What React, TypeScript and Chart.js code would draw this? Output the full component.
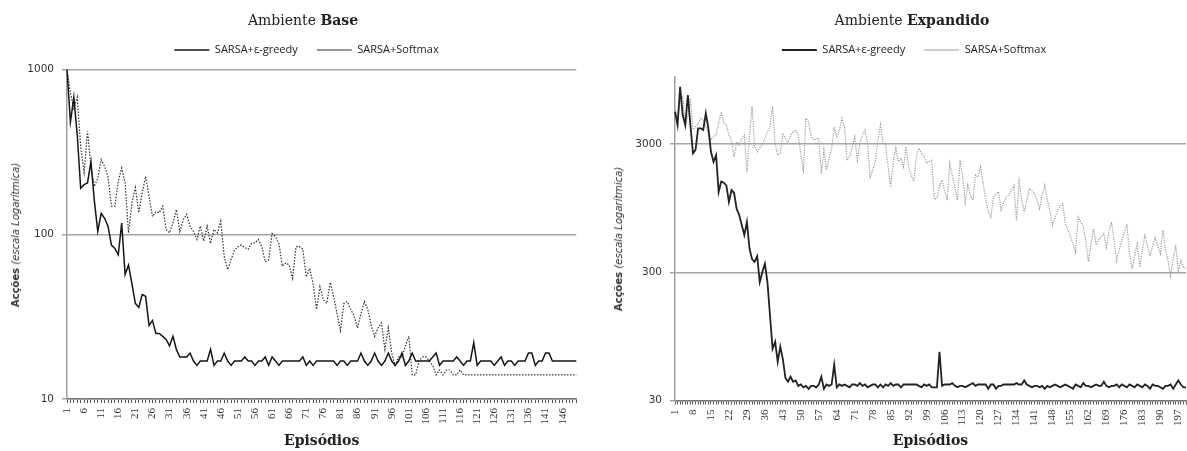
import React, { useEffect, useRef } from "react";
import { Chart, registerables } from "chart.js";

Chart.register(...registerables);

// ---------------- data ----------------
const seriesNames = ["SARSA+ε-greedy", "SARSA+Softmax"];

const baseEpisodes = Array.from({ length: 150 }, (_, i) => String(i + 1));
const expEpisodes = Array.from({ length: 200 }, (_, i) => String(i + 1));

const baseYTicks = [10, 100, 1000];
const expYTicks = [30, 300, 3000];

const baseGreedy = [
  1000, 480, 680, 400, 190, 200, 205, 275, 160, 104,
  134, 125, 112, 86, 82, 75, 117, 57, 65, 50,
  38, 36, 43, 42, 28, 30, 25, 25, 24, 23,
  21, 24, 20, 18, 18, 18, 19, 17, 16, 17,
  17, 17, 20, 16, 17, 17, 19, 17, 16, 17,
  17, 17, 18, 17, 17, 16, 17, 17, 18, 16,
  18, 17, 16, 17, 17, 17, 17, 17, 17, 18,
  16, 17, 16, 17, 17, 17, 17, 17, 17, 16,
  17, 17, 16, 17, 17, 17, 19, 17, 16, 17,
  19, 17, 16, 17, 19, 17, 16, 17, 19, 16,
  17, 19, 17, 17, 17, 17, 17, 18, 19, 16,
  17, 17, 17, 17, 18, 17, 16, 17, 17, 22,
  16, 17, 17, 17, 17, 16, 17, 18, 16, 17,
  17, 16, 17, 17, 17, 19, 19, 16, 17, 17,
  19, 19, 17, 17, 17, 17, 17, 17, 17, 17,
];

const baseSoftmax = [
  1000, 720, 580, 680, 340, 237, 422, 258, 195, 219,
  284, 258, 224, 148, 148, 210, 252, 205, 102, 155,
  192, 135, 178, 224, 170, 128, 137, 135, 148, 107,
  102, 117, 141, 104, 122, 132, 112, 104, 93, 112,
  91, 112, 88, 107, 102, 120, 73, 61, 70, 80,
  84, 86, 83, 81, 88, 89, 93, 84, 68, 70,
  101, 97, 88, 64, 67, 65, 54, 84, 84, 81,
  55, 62, 50, 35, 48, 40, 38, 51, 42, 33,
  26, 38, 39, 35, 32, 27, 33, 39, 35, 28,
  24, 27, 29, 20, 27, 19, 16, 18, 18, 21,
  24, 14, 14, 17, 18, 18, 17, 16, 14, 15,
  14, 15, 15, 14, 14, 15, 14, 14, 14, 14,
  14, 14, 14, 14, 14, 14, 14, 14, 14, 14,
  14, 14, 14, 14, 14, 14, 14, 14, 14, 14,
  14, 14, 14, 14, 14, 14, 14, 14, 14, 14,
];

const expGreedy = [
  5360, 4220, 8400, 5050, 4220, 7240, 4220, 2540, 2700, 3980,
  3980, 3860, 5210, 3980, 2610, 2180, 2460, 1270, 1530, 1500,
  1430, 1060, 1310, 1250, 940, 840, 700, 585, 740, 460,
  380, 362, 400, 251, 300, 350, 251, 138, 76, 86,
  60, 79, 63, 45, 42, 46, 42, 43, 39, 40,
  38, 39, 37, 39, 39, 38, 40, 46, 37, 40,
  39, 40, 57, 38, 40, 39, 40, 39, 38, 40,
  40, 39, 41, 39, 40, 38, 39, 40, 40, 38,
  40, 38, 40, 39, 41, 39, 40, 40, 38, 40,
  40, 40, 40, 40, 40, 39, 38, 40, 39, 40,
  38, 38, 38, 72, 39, 40, 40, 40, 41, 39,
  38, 39, 39, 38, 39, 40, 41, 39, 40, 40,
  40, 40, 37, 40, 40, 37, 39, 39, 40, 40,
  40, 40, 40, 41, 40, 40, 43, 40, 39, 38,
  39, 39, 38, 39, 37, 39, 38, 39, 40, 39,
  38, 39, 40, 39, 38, 37, 40, 39, 38, 41,
  39, 39, 38, 39, 40, 39, 39, 42, 39, 38,
  39, 39, 40, 38, 40, 39, 38, 40, 39, 38,
  40, 39, 38, 40, 39, 37, 40, 39, 39, 38,
  37, 39, 39, 40, 37, 40, 43, 40, 38, 38,
];

const expSoftmax = [
  5500, 4800, 6500, 7000, 4200, 5000, 6800, 3900, 4100, 4300,
  4770, 4620, 4100, 3700, 3220, 3420, 3530, 4360, 5360, 4400,
  4220, 3530, 3200, 2390, 3120, 2950, 3300, 3530, 1820, 3400,
  5890, 2860, 2610, 2800, 2950, 3330, 3750, 4100, 5890, 3000,
  2460, 2540, 3640, 3330, 3040, 3500, 3750, 3860, 3530, 2500,
  1880, 4770, 4480, 3420, 3220, 3300, 3330, 1770, 2690, 1880,
  2300, 2780, 3980, 3420, 3800, 4770, 4100, 2240, 2390, 2800,
  3420, 2240, 3040, 3500, 3860, 3040, 1660, 1880, 2200, 3200,
  4220, 3040, 2950, 2000, 1390, 2200, 2780, 2180, 2320, 1990,
  2860, 1990, 1700, 1530, 2400, 2780, 2540, 2390, 2120, 2200,
  2240, 1110, 1130, 1400, 1570, 1300, 1090, 2120, 1700, 1400,
  1090, 2240, 1660, 1060, 1430, 1200, 1090, 1720, 1660, 1990,
  1480, 1100, 900, 810, 1160, 1220, 1270, 920, 1050, 1160,
  1200, 1300, 1430, 760, 1530, 1100, 890, 1090, 1350, 1300,
  1240, 1100, 940, 1200, 1430, 1100, 910, 700, 800, 910,
  980, 1030, 720, 640, 570, 500, 430, 810, 740, 680,
  520, 362, 500, 660, 490, 540, 570, 600, 470, 620,
  740, 530, 370, 450, 530, 620, 710, 420, 320, 400,
  500, 330, 450, 580, 480, 400, 480, 560, 480, 420,
  640, 450, 370, 280, 380, 490, 310, 370, 330, 320,
];

// ---------------- chart building ----------------
type PanelSpec = {
  labels: string[];
  greedy: number[];
  softmax: number[];
  yMin: number;
  yMax: number;
  yTicks: number[];
  labelStep: number;
  padRight: number;
  padTop: number;
  yAxisWidth: number;
  xAxisHeight: number;
  legendHeight: number;
  legendCenter: number;
  greedyColor: string;
  greedyWidth: number;
  softColor: string;
  softWidth: number;
  softDash: number[];
};

function legendControlPlugin(h: number, center: number) {
  return {
    id: "legendControl",
    beforeInit(chart: any) {
      const lg = chart.legend;
      if (!lg || lg._hPatched) return;
      const orig = lg.fit;
      lg.fit = function () {
        orig.call(this);
        this.height = h;
      };
      lg._hPatched = true;
    },
    afterLayout(chart: any) {
      const lg = chart.legend;
      if (!lg) return;
      const w = lg.right - lg.left;
      lg.left = center - w / 2;
      lg.right = center + w / 2;
    },
  };
}

function buildConfig(s: PanelSpec): any {
  return {
    type: "line",
    data: {
      labels: s.labels,
      datasets: [
        {
          label: seriesNames[0],
          data: s.greedy,
          borderColor: s.greedyColor,
          backgroundColor: s.greedyColor,
          borderWidth: s.greedyWidth,
          pointRadius: 0,
          tension: 0,
          fill: false,
        },
        {
          label: seriesNames[1],
          data: s.softmax,
          borderColor: s.softColor,
          backgroundColor: s.softColor,
          borderWidth: s.softWidth,
          borderDash: s.softDash,
          pointRadius: 0,
          tension: 0,
          fill: false,
        },
      ],
    },
    options: {
      responsive: false,
      animation: false,
      events: [],
      layout: {
        padding: { left: 0, right: s.padRight, top: s.padTop, bottom: 0 },
      },
      plugins: {
        legend: {
          display: true,
          position: "top",
          align: "center",
          labels: {
            usePointStyle: true,
            pointStyle: "line",
            pointStyleWidth: 35,
            padding: 19,
            color: "#222",
            font: { family: "Open Sans", size: 11 },
          },
        },
        title: { display: false },
        tooltip: { enabled: false },
      },
      scales: {
        x: {
          type: "category",
          offset: false,
          border: { display: true, color: "#7a7a7a", width: 1.5 },
          grid: {
            display: true,
            drawOnChartArea: false,
            drawTicks: true,
            tickLength: 4,
            color: "#555",
            lineWidth: 1,
          },
          ticks: {
            autoSkip: false,
            minRotation: 90,
            maxRotation: 90,
            padding: 5,
            color: "#333",
            font: { family: "Liberation Serif", size: 11 },
            callback: (_v: any, i: number) => (i % s.labelStep === 0 ? s.labels[i] : ""),
          },
          title: {
            display: true,
            text: "Episódios",
            color: "#222",
            font: { family: "DejaVu Serif", size: 14, weight: "bold" },
            padding: { top: 0, bottom: 1 },
          },
          afterFit: (scale: any) => {
            scale.height = s.xAxisHeight;
            scale.paddingLeft = 0;
            scale.paddingRight = 0;
          },
        },
        y: {
          type: "logarithmic",
          min: s.yMin,
          max: s.yMax,
          border: { display: true, color: "#a0a0a0", width: 1.5 },
          grid: { color: "#a6a6a6", lineWidth: 1.5, tickLength: 5, drawTicks: true },
          afterBuildTicks: (scale: any) => {
            scale.ticks = s.yTicks.map((v) => ({ value: v }));
          },
          ticks: {
            padding: 8,
            color: "#333",
            font: { family: "DejaVu Sans", size: 10.5 },
            callback: (v: any) => String(v),
          },
          afterFit: (scale: any) => {
            scale.width = s.yAxisWidth;
          },
        },
      },
    },
    plugins: [legendControlPlugin(s.legendHeight, s.legendCenter)],
  };
}

const leftSpec: PanelSpec = {
  labels: baseEpisodes,
  greedy: baseGreedy,
  softmax: baseSoftmax,
  yMin: 10,
  yMax: 1000,
  yTicks: baseYTicks,
  labelStep: 5,
  padRight: 23.7,
  padTop: 25.5,
  yAxisWidth: 67,
  xAxisHeight: 52,
  legendHeight: 44,
  legendCenter: 306.5,
  greedyColor: "#151515",
  greedyWidth: 1.5,
  softColor: "#333333",
  softWidth: 1.2,
  softDash: [1.5, 1.5],
};

const rightSpec: PanelSpec = {
  labels: expEpisodes,
  greedy: expGreedy,
  softmax: expSoftmax,
  yMin: 30,
  yMax: 10000,
  yTicks: expYTicks,
  labelStep: 7,
  padRight: 1,
  padTop: 25.5,
  yAxisWidth: 75,
  xAxisHeight: 50.5,
  legendHeight: 51.5,
  legendCenter: 314,
  greedyColor: "#222222",
  greedyWidth: 1.8,
  softColor: "#9c9c9c",
  softWidth: 1.2,
  softDash: [1.2, 1.2],
};

function Panel({ spec, left, width }: { spec: PanelSpec; left: number; width: number }) {
  const ref = useRef<HTMLCanvasElement>(null);
  useEffect(() => {
    const chart = new Chart(ref.current as HTMLCanvasElement, buildConfig(spec));
    return () => chart.destroy();
  }, []);
  return (
    <canvas
      ref={ref}
      width={width}
      height={451}
      style={{ position: "absolute", left, top: 0, display: "block" }}
    />
  );
}

function Title({ cx, children }: { cx: number; children: any }) {
  return (
    <div
      style={{
        position: "absolute",
        left: cx - 200,
        top: 10,
        width: 400,
        textAlign: "center",
        fontFamily: '"DejaVu Serif"',
        fontSize: 14,
        lineHeight: "20px",
        color: "#222",
      }}
    >
      {children}
    </div>
  );
}

function YTitle({ cx, cy }: { cx: number; cy: number }) {
  return (
    <div
      style={{
        position: "absolute",
        left: cx,
        top: cy,
        transform: "translate(-50%, -50%) rotate(-90deg)",
        whiteSpace: "nowrap",
        fontFamily: '"DejaVu Sans"',
        fontSize: 10,
        lineHeight: "12px",
        color: "#333",
      }}
    >
      <b>Acções</b> <i>(escala Logarítmica)</i>
    </div>
  );
}

export default function App() {
  return (
    <div
      style={{
        position: "fixed",
        left: 0,
        top: 0,
        width: 1187,
        height: 451,
        background: "#fff",
        overflow: "hidden",
      }}
    >
      <Panel spec={leftSpec} left={0} width={600} />
      <Panel spec={rightSpec} left={600} width={587} />
      <Title cx={303}>
        Ambiente <b>Base</b>
      </Title>
      <Title cx={912}>
        Ambiente <b>Expandido</b>
      </Title>
      <YTitle cx={16} cy={235} />
      <YTitle cx={619} cy={239} />
    </div>
  );
}
